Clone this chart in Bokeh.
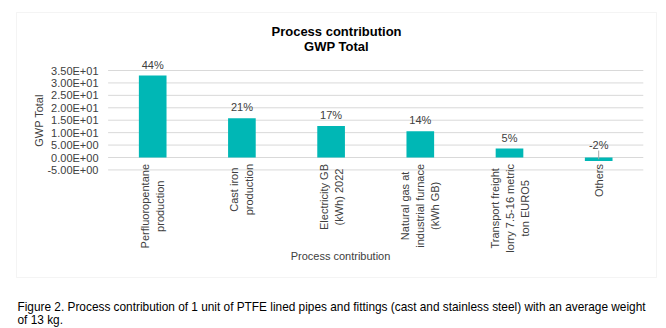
import math
from bokeh.plotting import figure
from bokeh.models import ColumnDataSource, Range1d, FixedTicker, Label, BoxAnnotation
from bokeh.core.properties import value
from bokeh.embed import file_html
from bokeh.resources import INLINE

# ---------------- data ----------------
categories = [
    "Perfluoropentane production",
    "Cast iron production",
    "Electricity GB (kWh) 2022",
    "Natural gas at industrial furnace (kWh GB)",
    "Transport freight lorry 7.5-16 metric ton EURO5",
    "Others",
]
category_labels = [
    "Perfluoropentane\nproduction",
    "Cast iron\nproduction",
    "Electricity GB\n(kWh) 2022",
    "Natural gas at\nindustrial furnace\n(kWh GB)",
    "Transport freight\nlorry 7.5-16 metric\nton EURO5",
    "Others",
]
gwp_values = [33.0, 15.8, 12.7, 10.6, 3.6, -1.4]
percent_labels = ["44%", "21%", "17%", "14%", "5%", "-2%"]
y_ticks = [-5, 0, 5, 10, 15, 20, 25, 30, 35]
y_tick_labels = ["-5.00E+00", "0.00E+00", "5.00E+00", "1.00E+01", "1.50E+01",
                 "2.00E+01", "2.50E+01", "3.00E+01", "3.50E+01"]
title_lines = ["Process contribution", "GWP Total"]
x_title = "Process contribution"
y_title = "GWP Total"
caption_lines = [
    "Figure 2. Process contribution of 1 unit of PTFE lined pipes and fittings (cast and stainless steel) with an average weight",
    "of 13 kg.",
]

# ---------------- layout constants ----------------
W, H = 666, 328
PLOT_L, PLOT_R = 107.6, 642.8   # canvas x of the category band
ZERO_PX = 157.0                 # canvas y of value 0
PPU = 87.0 / 35.0               # pixels per GWP unit
CAT_W = (PLOT_R - PLOT_L) / len(categories)

def cx(px):
    return (px - PLOT_L) / CAT_W

def cy(py):
    return (ZERO_PX - py) / PPU

FONT = value("Liberation Sans")
TXT = "#404040"
BAR = "#00B7B5"
GRID = "#d9d9d9"

x_pos = [i + 0.5 for i in range(len(categories))]

p = figure(
    width=W, height=H,
    x_range=Range1d(cx(0), cx(W)),
    y_range=Range1d(cy(H), cy(0)),
    output_backend="svg", toolbar_location=None,
    x_axis_location=None,
    min_border_left=0, min_border_right=0,
    min_border_top=0, min_border_bottom=0,
)
p.outline_line_color = None
p.xgrid.grid_line_color = None
p.ygrid.ticker = FixedTicker(ticks=y_ticks)
p.ygrid.grid_line_color = None

ax = p.yaxis[0]
ax.ticker = FixedTicker(ticks=y_ticks)
ax.major_label_overrides = {t: l for t, l in zip(y_ticks, y_tick_labels)}
ax.axis_line_color = None
ax.major_tick_line_color = None
ax.minor_tick_line_color = None
ax.major_tick_out = 0
ax.major_tick_in = 0
ax.major_label_standoff = -98
ax.major_label_text_font = "Liberation Sans"
ax.major_label_text_font_size = "11px"
ax.major_label_text_color = TXT

# horizontal gridlines across the category band only
p.segment(x0=cx(PLOT_L), x1=cx(PLOT_R), y0=y_ticks, y1=y_ticks,
          line_color=GRID, line_width=1)

# chart border
p.add_layout(BoxAnnotation(left=cx(16), right=cx(656), top=cy(12), bottom=cy(277),
                           fill_alpha=0, line_color=GRID, line_width=1))

src = ColumnDataSource(dict(
    x=x_pos,
    val=gwp_values,
    lab=category_labels,
    pct=percent_labels,
    pct_y=[v + 4.4 if v >= 0 else 5.2 for v in gwp_values],
))

p.vbar(x="x", top="val", bottom=0, width=0.31, source=src,
       fill_color=BAR, line_color=None)

neg = ColumnDataSource(dict(
    x=[x for x, v in zip(x_pos, gwp_values) if v < 0],
    y0=[2.8 for v in gwp_values if v < 0],
    y1=[v / 2 for v in gwp_values if v < 0],
))
p.segment(x0="x", y0="y0", x1="x", y1="y1", source=neg, line_color="#a6a6a6", line_width=1)

p.text(x="x", y="pct_y", text="pct", source=src, text_font=FONT,
       text_font_size="11px", text_color=TXT, text_align="center",
       text_baseline="alphabetic")

p.text(x="x", y=cy(163.5), text="lab", source=src, text_font=FONT,
       text_font_size="11px", text_color=TXT, angle=math.pi / 2,
       anchor=value("center_right"), text_align="center",
       text_baseline="middle", text_line_height=1.25)

# titles
for line, py in zip(title_lines, [31, 46]):
    p.add_layout(Label(x=cx(336), y=cy(py), text=line, text_font="Liberation Sans",
                       text_font_size="13px", text_font_style="bold", text_color="#000000",
                       text_align="center", text_baseline="middle"))

p.add_layout(Label(x=cx(340), y=cy(255), text=x_title, text_font="Liberation Sans",
                   text_font_size="11px", text_color=TXT,
                   text_align="center", text_baseline="middle"))
p.add_layout(Label(x=cx(38), y=cy(120), text=y_title, text_font="Liberation Sans",
                   text_font_size="11px", text_color=TXT, angle=math.pi / 2,
                   text_align="center", text_baseline="middle"))

for line, py in zip(caption_lines, [306, 319]):
    p.add_layout(Label(x=cx(17), y=cy(py), text=line, text_font="Liberation Sans",
                       text_font_size="11.85px", text_color="#000000",
                       text_align="left", text_baseline="alphabetic"))

open("out.html", "w").write(file_html(p, INLINE))
